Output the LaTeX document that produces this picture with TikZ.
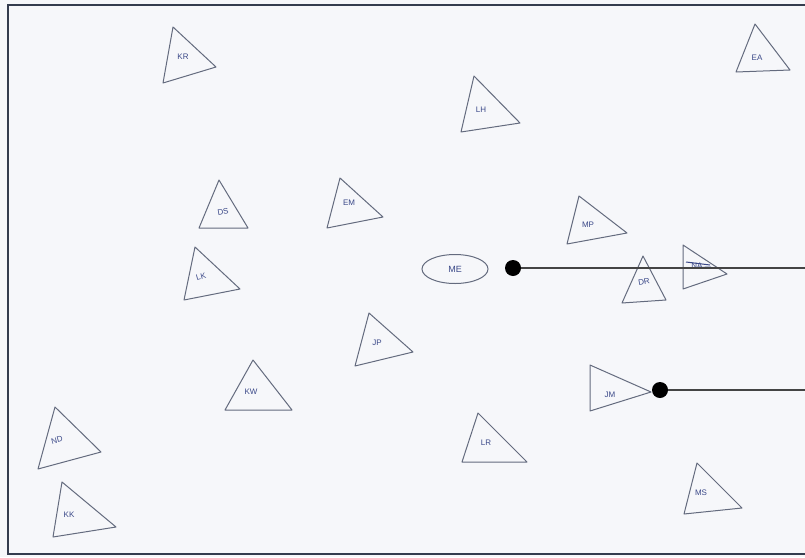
\documentclass[tikz,border=0pt]{standalone}
\usepackage{fontspec}
\setmainfont{Liberation Sans}
\usetikzlibrary{shapes.geometric}
\definecolor{paper}{HTML}{F6F7FA}
\definecolor{pen}{HTML}{646B7E}
\definecolor{ink}{HTML}{3A4888}
\definecolor{frame}{HTML}{343C4E}
\definecolor{wire}{HTML}{444444}
\tikzset{
  x=1pt, y=-1pt,
  tri/.style={draw=pen, line width=1pt, line join=round},
  lbl/.style={font=\fontsize{8}{9}\selectfont, text=ink, inner sep=0pt},
  dot/.style={circle, fill=black, minimum size=16pt, inner sep=0pt},
  wireline/.style={draw=wire, line width=1.3pt}
}
\begin{document}
\begin{tikzpicture}
\useasboundingbox (0,0) rectangle (805,557);
\fill[paper] (0,0) rectangle (805,557);
\draw[frame, line width=1.2pt] (810,5) -- (8,5) -- (8,554) -- (810,554);
% triangles
\draw[tri] (173,27) -- (163,83) -- (216,67) -- cycle;
\node[lbl] (KR) at (183,57) {KR};
\draw[tri] (755,24) -- (736,72) -- (790,70) -- cycle;
\node[lbl] (EA) at (757,58) {EA};
\draw[tri] (474,76) -- (461,132) -- (520,123) -- cycle;
\node[lbl] (LH) at (481,110) {LH};
\draw[tri] (219,180) -- (199,228) -- (248,228) -- cycle;
\node[lbl, rotate=10] (DS) at (223,212) {DS};
\draw[tri] (340,178) -- (327,228) -- (383,217) -- cycle;
\node[lbl] (EM) at (349,203) {EM};
\draw[tri] (579,196) -- (567,244) -- (627,233) -- cycle;
\node[lbl] (MP) at (588,225) {MP};
\draw[tri] (643,256) -- (622,303) -- (666,300) -- cycle;
\node[lbl, rotate=10] (DR) at (644,282) {DR};
\draw[tri] (683,245) -- (683,289) -- (727,274) -- cycle;
\node[lbl] (NA) at (697,266) {NA};
\draw[ink, line width=1pt] (686,262) -- (710,265) (686,268) -- (711,267);
\draw[tri] (195,247) -- (184,300) -- (240,289) -- cycle;
\node[lbl, rotate=15] (LK) at (201,277) {LK};
\draw[tri] (369,313) -- (355,366) -- (413,352) -- cycle;
\node[lbl] (JP) at (377,343) {JP};
\draw[tri] (253,360) -- (225,410) -- (292,410) -- cycle;
\node[lbl] (KW) at (251,392) {KW};
\draw[tri] (55,407) -- (38,469) -- (101,452) -- cycle;
\node[lbl, rotate=15] (ND) at (57,440) {ND};
\draw[tri] (62,482) -- (53,537) -- (116,527) -- cycle;
\node[lbl] (KK) at (69,515) {KK};
\draw[tri] (590,365) -- (590,411) -- (651,392) -- cycle;
\node[lbl] (JM) at (610,395) {JM};
\draw[tri] (478,413) -- (462,462) -- (527,462) -- cycle;
\node[lbl] (LR) at (486,443) {LR};
\draw[tri] (697,463) -- (684,514) -- (742,508) -- cycle;
\node[lbl] (MS) at (701,493) {MS};
% ME ellipse
\node[ellipse, draw=pen, line width=1pt, minimum width=66pt, minimum height=29pt, font=\fontsize{9}{10}\selectfont, text=ink] (ME) at (455,269) {ME};
% dots and lines
\node[dot] (d1) at (513,268) {};
\coordinate (e1) at (805,268);
\draw[wireline] (d1) -- (e1);
\node[dot] (d2) at (660,390) {};
\coordinate (e2) at (805,390);
\draw[wireline] (d2) -- (e2);
\end{tikzpicture}
\end{document}
